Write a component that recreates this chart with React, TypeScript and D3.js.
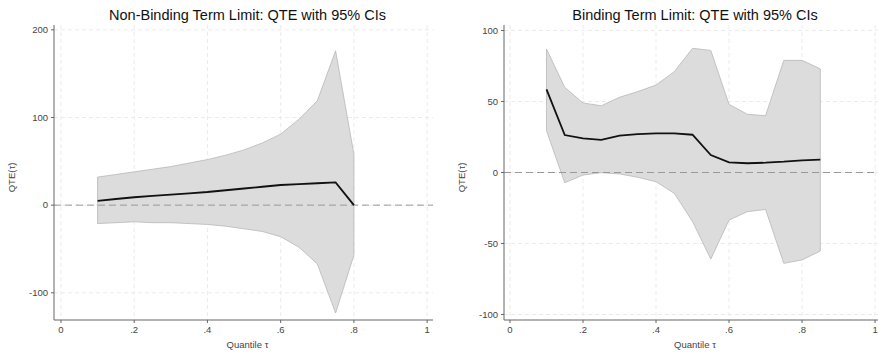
import * as d3 from "d3";

const quantilesA = [0.1, 0.15, 0.2, 0.25, 0.3, 0.35, 0.4, 0.45, 0.5, 0.55, 0.6, 0.65, 0.7, 0.75, 0.8];
const qteA = [5, 7, 9, 10.5, 12, 13.5, 15, 17, 19, 21, 23, 24, 25, 26, 0];
const upperA = [32, 35, 38, 41, 44, 48, 52, 57, 63, 71, 81, 98, 119, 176, 58];
const lowerA = [-21, -20, -19, -20, -20, -21, -22, -24, -27, -30, -36, -48, -67, -123, -57];

const quantilesB = [0.1, 0.15, 0.2, 0.25, 0.3, 0.35, 0.4, 0.45, 0.5, 0.55, 0.6, 0.65, 0.7, 0.75, 0.8, 0.85];
const qteB = [58.6, 26.4, 24, 23, 26, 27, 27.6, 27.6, 26.6, 12.3, 7.2, 6.5, 6.9, 7.6, 8.6, 9];
const upperB = [87, 60, 49, 47, 53, 57, 61.6, 71, 87.5, 86, 48, 41, 40, 79, 79, 73];
const lowerB = [29.4, -7.2, -1.8, -0.1, -1, -3.4, -6.5, -14.7, -34.6, -61, -33.5, -27.6, -26, -64, -61.6, -55.3];

const xTicks = [0, 0.2, 0.4, 0.6, 0.8, 1];
const yTicksA = [-100, 0, 100, 200];
const yTicksB = [-100, -50, 0, 50, 100];

const FONT = "Liberation Sans, Arial, sans-serif";

type PanelProps = {
  left: number;
  title: string;
  xs: number[];
  mid: number[];
  hi: number[];
  lo: number[];
  yDomain: [number, number];
  yTicks: number[];
  xDomain: [number, number];
  width: number;
};

const TOP = 25;
const BOTTOM = 320;

const Panel = ({ left, title, xs, mid, hi, lo, yDomain, yTicks, xDomain, width }: PanelProps) => {
  const x = d3.scaleLinear().domain(xDomain).range([left, left + width]);
  const y = d3.scaleLinear().domain(yDomain).range([BOTTOM, TOP]);
  const rows = xs.map((q, i) => ({ q, m: mid[i], h: hi[i], l: lo[i] }));

  const area = d3
    .area<any>()
    .x((d) => x(d.q))
    .y0((d) => y(d.l))
    .y1((d) => y(d.h));
  const line = d3
    .line<any>()
    .x((d) => x(d.q))
    .y((d) => y(d.m));

  const fmtX = (v: number) => (v === 0 || v === 1 ? String(v) : String(v).replace("0.", "."));
  const cx = left + width / 2;

  return (
    <g>
      {/* grid */}
      {xTicks.map((t) => (
        <line key={"gx" + t} x1={x(t)} x2={x(t)} y1={TOP} y2={BOTTOM} stroke="#ebebeb" strokeDasharray="4,3" />
      ))}
      {yTicks.map((t) => (
        <line key={"gy" + t} x1={left} x2={left + width} y1={y(t)} y2={y(t)} stroke="#ebebeb" strokeDasharray="4,3" />
      ))}
      <path d={area(rows) || ""} fill="#dcdcdc" stroke="#b8b8b8" strokeWidth={0.8} />
      <line x1={left} x2={left + width} y1={y(0)} y2={y(0)} stroke="#999" strokeDasharray="7,4" strokeWidth={1} />
      <path d={line(rows) || ""} fill="none" stroke="#111" strokeWidth={1.8} />
      {/* axes */}
      <line x1={left} x2={left} y1={TOP} y2={BOTTOM} stroke="#666" />
      <line x1={left} x2={left + width} y1={BOTTOM} y2={BOTTOM} stroke="#666" />
      {yTicks.map((t) => (
        <g key={"ty" + t}>
          <line x1={left - 3} x2={left} y1={y(t)} y2={y(t)} stroke="#666" />
          <text x={left - 6} y={y(t)} dy="0.35em" textAnchor="end" fontSize={9.5} fill="#444" fontFamily={FONT}>
            {t}
          </text>
        </g>
      ))}
      {xTicks.map((t) => (
        <g key={"tx" + t}>
          <line x1={x(t)} x2={x(t)} y1={BOTTOM} y2={BOTTOM + 3} stroke="#666" />
          <text x={x(t)} y={BOTTOM + 13} textAnchor="middle" fontSize={9.5} fill="#444" fontFamily={FONT}>
            {fmtX(t)}
          </text>
        </g>
      ))}
      <text x={cx + 4} y={20} textAnchor="middle" fontSize={14.5} fill="#111" fontFamily={FONT}>
        {title}
      </text>
      <text x={cx + 4} y={348} textAnchor="middle" fontSize={9.5} fill="#444" fontFamily={FONT}>
        Quantile τ
      </text>
      <text
        transform={`translate(${left - 39},${(TOP + BOTTOM) / 2 + 5}) rotate(-90)`}
        textAnchor="middle"
        fontSize={9.5}
        fill="#444"
        fontFamily={FONT}
      >
        QTE(τ)
      </text>
    </g>
  );
};

export default function App() {
  return (
    <svg width={878} height={354} style={{ position: "absolute", left: 0, top: 0, background: "#fff" }}>
      <Panel
        left={54}
        width={379}
        title="Non-Binding Term Limit: QTE with 95% CIs"
        xs={quantilesA}
        mid={qteA}
        hi={upperA}
        lo={lowerA}
        yDomain={[-131, 205.5]}
        yTicks={yTicksA}
        xDomain={[-0.019, 1.016]}
      />
      <Panel
        left={504}
        width={374}
        title="Binding Term Limit: QTE with 95% CIs"
        xs={quantilesB}
        mid={qteB}
        hi={upperB}
        lo={lowerB}
        yDomain={[-103.9, 103.9]}
        yTicks={yTicksB}
        xDomain={[-0.0164, 1.008]}
      />
    </svg>
  );
}
